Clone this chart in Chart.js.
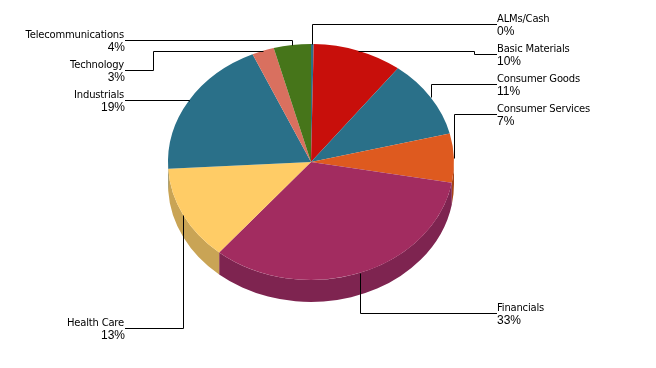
<!DOCTYPE html>
<html>
<head>
<meta charset="utf-8">
<title>Sector allocation</title>
<script src="https://cdn.jsdelivr.net/npm/chart.js@4/dist/chart.umd.min.js"></script>
<style>
    html, body { margin: 0; padding: 0; background: #fff; }
    canvas { display: block; }
</style>
</head>
<body>
<canvas id="chart" width="656" height="368"></canvas>
<script>
const categories = ["ALMs/Cash", "Basic Materials", "Consumer Goods", "Consumer Services", "Financials", "Health Care", "Industrials", "Technology", "Telecommunications"];
const weights = [0.3, 10.1, 10.7, 6.7, 33.3, 13, 19.2, 2.5, 4.2];
const sliceColors = ["#2a7089", "#c80f0b", "#2a7089", "#de5a1f", "#a22c60", "#ffcc66", "#2a7089", "#d9705f", "#46751a"];
const sideColors = ["#1f5366", "#960b08", "#1f5366", "#a64317", "#7e2450", "#c9a455", "#1f5366", "#a35447", "#345713"];

// label block per slice: side of the pie, line height at the text, optional extra elbow
const labelLayout = [
    { side: "right", y: 24 },
    { side: "right", y: 54, elbowX: 474 },
    { side: "right", y: 84 },
    { side: "right", y: 114 },
    { side: "right", y: 313 },
    { side: "left", y: 328 },
    { side: "left", y: 100 },
    { side: "left", y: 70, elbowX: 153 },
    { side: "left", y: 40 },
];

const LEFT_TEXT_X = 125;
const RIGHT_TEXT_X = 497;
const SQUASH = 0.825;
const DEPTH = 22;

const piePerspective = {
    id: "piePerspective",
    beforeDatasetsDraw(chart) {
        const ctx = chart.ctx;
        const arcs = chart.getDatasetMeta(0).data;
        const cx = arcs[0].x;
        const cy = arcs[0].y;
        const r = arcs[0].outerRadius;
        const ry = r * SQUASH;

        // side wall, only the front half of the rim shows
        arcs.forEach((arc, i) => {
            const from = Math.max(arc.startAngle, 0);
            const to = Math.min(arc.endAngle, Math.PI);
            if (to <= from) return;
            ctx.beginPath();
            ctx.ellipse(cx, cy, r, ry, 0, from, to);
            ctx.ellipse(cx, cy + DEPTH, r, ry, 0, to, from, true);
            ctx.closePath();
            ctx.fillStyle = sideColors[i];
            ctx.fill();
        });

        ctx.save();
        ctx.translate(cx, cy);
        ctx.scale(1, SQUASH);
        ctx.translate(-cx, -cy);
    },
    afterDatasetsDraw(chart) {
        const ctx = chart.ctx;
        ctx.restore();

        const arcs = chart.getDatasetMeta(0).data;
        arcs.forEach((arc, i) => {
            const layout = labelLayout[i];
            const mid = (arc.startAngle + arc.endAngle) / 2;
            const ax = Math.round(arc.x + arc.outerRadius * Math.cos(mid)) + 0.5;
            const ay = Math.round(arc.y + arc.outerRadius * SQUASH * Math.sin(mid)) + 0.5;
            const textX = layout.side === "left" ? LEFT_TEXT_X : RIGHT_TEXT_X;
            const lineY = layout.y + 0.5;

            ctx.beginPath();
            ctx.moveTo(ax, ay);
            if (layout.elbowX) {
                ctx.lineTo(layout.elbowX + 0.5, ay);
                ctx.lineTo(layout.elbowX + 0.5, lineY);
            } else {
                ctx.lineTo(ax, lineY);
            }
            ctx.lineTo(textX, lineY);
            ctx.strokeStyle = "#000";
            ctx.lineWidth = 1;
            ctx.stroke();

            ctx.fillStyle = "#000";
            ctx.textAlign = layout.side === "left" ? "right" : "left";
            ctx.textBaseline = "middle";
            ctx.font = "10px 'DejaVu Sans'";
            ctx.letterSpacing = "-0.2px";
            ctx.fillText(categories[i], textX - (layout.side === "left" ? 1 : 0), layout.y - 5);
            ctx.font = "12px 'Liberation Sans'";
            ctx.letterSpacing = "0px";
            ctx.fillText(Math.round(weights[i]) + "%", textX, layout.y + 8);
        });
    },
};

new Chart(document.getElementById("chart"), {
    type: "pie",
    data: {
        labels: categories,
        datasets: [
            {
                data: weights,
                backgroundColor: sliceColors,
                borderWidth: 0,
                radius: 143,
            },
        ],
    },
    options: {
        responsive: false,
        animation: false,
        layout: {
            padding: { right: 34, bottom: 44 },
        },
        plugins: {
            legend: { display: false },
            tooltip: { enabled: false },
        },
    },
    plugins: [piePerspective],
});
</script>
</body>
</html>
